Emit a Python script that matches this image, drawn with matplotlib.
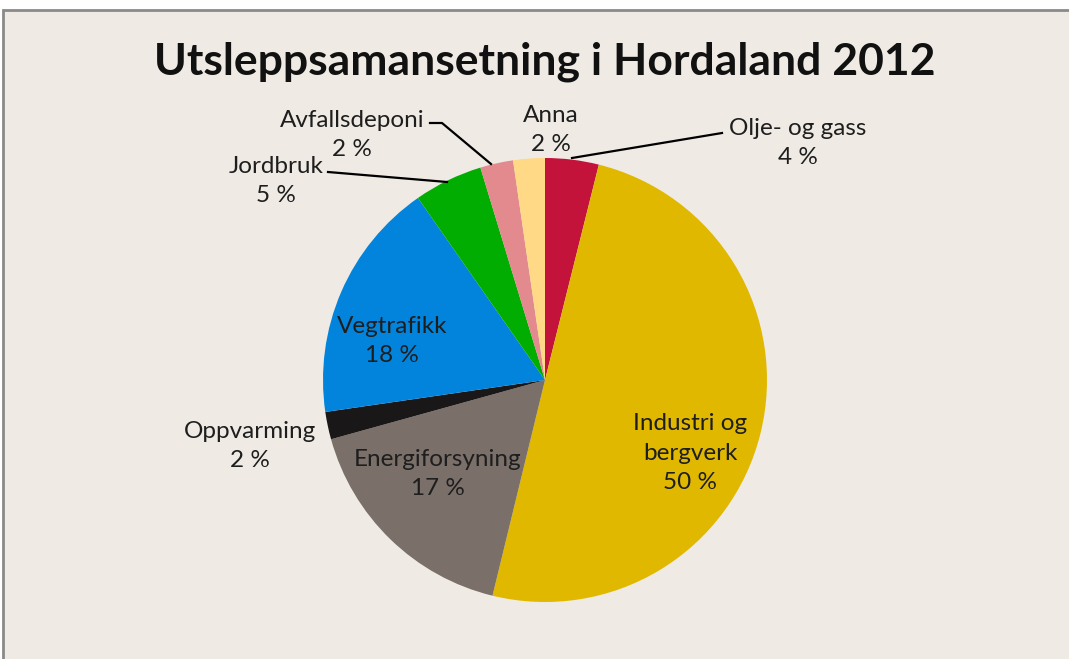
import matplotlib.pyplot as plt
from matplotlib.patches import Rectangle

# slices, clockwise from the top
categories = ['Olje- og gass', 'Industri og\nbergverk', 'Energiforsyning', 'Oppvarming',
              'Vegtrafikk', 'Jordbruk', 'Avfallsdeponi', 'Anna']
values = [3.9, 49.9, 16.9, 2.0, 17.6, 5.0, 2.4, 2.3]
colors = ['#C3133A', '#E0B800', '#7A6F69', '#1A1718',
          '#0284DC', '#00AD00', '#E28A8E', '#FFD985']

W, H = 1069, 659
fig = plt.figure(figsize=(W / 100, H / 100), dpi=100, facecolor='white')
ax = fig.add_axes((0, 0, 1, 1))

# chart area background and frame
ax.add_patch(Rectangle((3, -5), W + 10, H - 10 + 5, facecolor='#EFEBE4',
                       edgecolor='#8A8A8A', linewidth=2, zorder=0))

cx, cy, r = 545, H - 380, 222
ax.pie(values, colors=colors, startangle=90, counterclock=False,
       center=(cx, cy), radius=r, wedgeprops=dict(linewidth=0),
       frame=True)

ax.set_xlim(0, W)
ax.set_ylim(0, H)
ax.set_aspect('equal')
ax.axis('off')

font = 'Lato'
tc = '#1E1E1E'
fs = 17.5

# label positions in pixel coordinates (x, y from top)
label_pos = [(798, 143), (690, 453), (438, 474), (250, 446),
             (392, 341), (276, 181), (352, 135), (551, 130)]
for name, v, (px, py) in zip(categories, values, label_pos):
    ax.text(px, H - py, f'{name}\n{round(v):.0f} %', ha='center', va='center',
            fontsize=fs, family=font, color=tc, linespacing=1.5, zorder=5)

# leader lines
leaders = [
    [(572, 158), (722, 133)],
    [(447, 182), (328, 172)],
    [(491, 164), (442, 123), (430, 123)],
]
for pts in leaders:
    xs = [p[0] for p in pts]
    ys = [H - p[1] for p in pts]
    ax.plot(xs, ys, color='black', linewidth=1.6, zorder=4)

ax.text(545, H - 62, 'Utsleppsamansetning i Hordaland 2012', ha='center', va='center',
        fontsize=32, fontweight='bold', family=font, color='#111111')

fig.savefig('out.png', dpi=100, facecolor='white')
